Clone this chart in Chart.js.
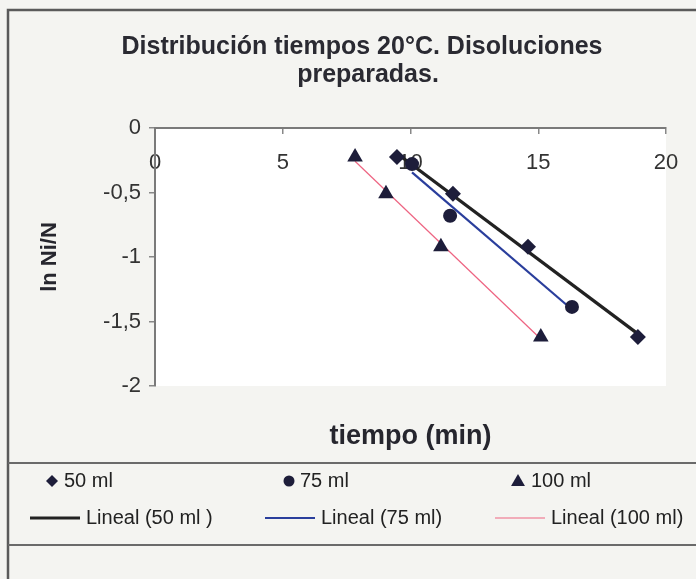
<!DOCTYPE html>
<html>
<head>
<meta charset="utf-8">
<script src="https://cdn.jsdelivr.net/npm/chart.js@4.4.1/dist/chart.umd.min.js"></script>
<style>
  html, body { margin: 0; padding: 0; background: #f4f4f1; }
  #wrap { width: 696px; height: 579px; position: relative; }
</style>
</head>
<body>
<div id="wrap"><canvas id="c" width="696" height="579"></canvas></div>
<script>
// ---- data ----
const titleLines = ["Distribución tiempos 20°C. Disoluciones", "preparadas."];
const xTitle = "tiempo (min)";
const yTitle = "ln Ni/N";
const seriesNames = ["50 ml", "75 ml", "100 ml"];
const trendNames = ["Lineal (50 ml )", "Lineal (75 ml)", "Lineal (100 ml)"];

const x50 = [9.47, 11.66, 14.6, 18.9];
const y50 = [-0.225, -0.51, -0.92, -1.62];
const x75 = [10.06, 11.55, 16.32];
const y75 = [-0.28, -0.68, -1.387];
const x100 = [7.83, 9.04, 11.19, 15.1];
const y100 = [-0.225, -0.51, -0.92, -1.62];

const xTicks = [0, 5, 10, 15, 20];
const yTicks = [0, -0.5, -1, -1.5, -2];

// ---- helpers ----
function pts(xs, ys) { return xs.map((x, i) => ({ x: x, y: ys[i] })); }
// Excel "Lineal" trendline: least-squares fit over the series' x range
function trend(xs, ys) {
  const n = xs.length;
  const mx = xs.reduce((a, b) => a + b, 0) / n;
  const my = ys.reduce((a, b) => a + b, 0) / n;
  let sxy = 0, sxx = 0;
  for (let i = 0; i < n; i++) { sxy += (xs[i] - mx) * (ys[i] - my); sxx += (xs[i] - mx) * (xs[i] - mx); }
  const b = sxy / sxx, a = my - b * mx;
  const x0 = Math.min(...xs), x1 = Math.max(...xs);
  return [{ x: x0, y: a + b * x0 }, { x: x1, y: a + b * x1 }];
}

const markerColor = '#1d1d3a';
const trendColors = ['#222222', '#2a3e9c', '#ee6482'];
const trendWidths = [3.2, 2.2, 1.2];
const markerStyles = ['rectRot', 'circle', 'triangle'];
const markerRadius = [8, 7, 9];

const FONT = "'Liberation Sans', Arial, sans-serif";

const bgPlugin = {
  id: 'bg',
  beforeDraw(chart) {
    const ctx = chart.ctx, ca = chart.chartArea;
    ctx.save();
    ctx.fillStyle = '#f4f4f1';
    ctx.fillRect(0, 0, chart.width, chart.height);
    ctx.fillStyle = '#ffffff';
    ctx.fillRect(ca.left, ca.top, ca.right - ca.left, ca.bottom - ca.top);
    ctx.strokeStyle = '#5a5a5a';
    ctx.lineWidth = 2.5;
    ctx.beginPath();
    ctx.moveTo(8, 579); ctx.lineTo(8, 10); ctx.lineTo(696, 10);
    ctx.stroke();
    ctx.strokeStyle = '#6a6a6a';
    ctx.lineWidth = 2;
    ctx.beginPath();
    ctx.moveTo(8, 463); ctx.lineTo(696, 463);
    ctx.moveTo(8, 545); ctx.lineTo(696, 545);
    ctx.stroke();
    // chart title
    ctx.fillStyle = '#2a2a32';
    ctx.font = "bold 25px " + FONT;
    ctx.textAlign = 'center';
    ctx.textBaseline = 'middle';
    ctx.fillText(titleLines[0], 362, 47);
    ctx.fillText(titleLines[1], 368, 75);
    ctx.restore();
  }
};

function drawMarker(ctx, style, x, y, r) {
  ctx.beginPath();
  if (style === 'rectRot') {
    ctx.moveTo(x, y - r); ctx.lineTo(x + r, y); ctx.lineTo(x, y + r); ctx.lineTo(x - r, y);
  } else if (style === 'circle') {
    ctx.arc(x, y, r, 0, Math.PI * 2);
  } else {
    ctx.moveTo(x, y - r); ctx.lineTo(x + r * 0.87, y + r * 0.5); ctx.lineTo(x - r * 0.87, y + r * 0.5);
  }
  ctx.closePath();
  ctx.fill();
}

const legendPlugin = {
  id: 'boxLegend',
  afterDraw(chart) {
    const ctx = chart.ctx;
    const ds = chart.data.datasets;
    const colX = [52, 289, 518];
    const textX1 = [64, 300, 531];
    const lineX = [[30, 80], [265, 315], [495, 545]];
    const textX2 = [86, 321, 551];
    const row1 = 481, row2 = 518;
    const legR = [6, 5.5, 8];
    ctx.save();
    ctx.font = "20px " + FONT;
    ctx.textBaseline = 'middle';
    ctx.textAlign = 'left';
    for (let i = 0; i < 3; i++) {
      const d = ds[i];
      ctx.fillStyle = d.backgroundColor;
      drawMarker(ctx, d.pointStyle, colX[i], i === 2 ? row1 + 1 : row1, legR[i]);
      ctx.fillStyle = '#222';
      ctx.fillText(d.label, textX1[i], row1);
      const t = ds[i + 3];
      ctx.strokeStyle = t.borderColor;
      ctx.lineWidth = t.borderWidth;
      ctx.beginPath();
      ctx.moveTo(lineX[i][0], row2); ctx.lineTo(lineX[i][1], row2);
      ctx.stroke();
      ctx.fillStyle = '#222';
      ctx.fillText(t.label, textX2[i], row2);
    }
    ctx.restore();
  }
};

const xsAll = [x50, x75, x100], ysAll = [y50, y75, y100];
const datasets = [];
for (let i = 0; i < 3; i++) {
  datasets.push({
    label: seriesNames[i],
    data: pts(xsAll[i], ysAll[i]),
    showLine: false,
    pointStyle: markerStyles[i],
    pointRadius: markerRadius[i],
    pointHoverRadius: markerRadius[i],
    backgroundColor: markerColor,
    borderColor: markerColor,
    borderWidth: 0
  });
}
for (let i = 0; i < 3; i++) {
  datasets.push({
    label: trendNames[i],
    data: trend(xsAll[i], ysAll[i]),
    showLine: true,
    pointRadius: 0,
    borderColor: trendColors[i],
    backgroundColor: trendColors[i],
    borderWidth: trendWidths[i],
    fill: false
  });
}

new Chart(document.getElementById('c'), {
  type: 'scatter',
  data: { datasets: datasets },
  plugins: [bgPlugin, legendPlugin],
  options: {
    responsive: false,
    animation: false,
    events: [],
    layout: { padding: { left: 0, right: 30, top: 128, bottom: 0 } },
    plugins: {
      legend: { display: false },
      tooltip: { enabled: false },
      title: { display: false }
    },
    scales: {
      x: {
        type: 'linear',
        position: { y: 0 },
        min: 0, max: 20,
        afterBuildTicks: (s) => { s.ticks = xTicks.map(v => ({ value: v })); },
        ticks: { color: '#333', font: { family: FONT, size: 22 }, padding: 17, maxRotation: 0 },
        grid: { drawOnChartArea: false, drawTicks: true, tickLength: 5, color: '#888', lineWidth: 1.5 },
        border: { display: true, color: '#7a7a7a', width: 2 }
      },
      x2: {
        type: 'linear',
        position: 'bottom',
        min: 0, max: 20,
        afterFit: (s) => { s.height = 193; },
        ticks: { display: false },
        grid: { display: false },
        border: { display: false },
        title: {
          display: true, text: xTitle, color: '#26262e',
          font: { family: FONT, size: 27, weight: 'bold', lineHeight: 1.2 },
          padding: { top: 0, bottom: 126 }
        }
      },
      y: {
        type: 'linear',
        position: 'left',
        min: -2, max: 0,
        afterFit: (s) => { s.width = 155; },
        afterBuildTicks: (s) => { s.ticks = yTicks.map(v => ({ value: v })); },
        ticks: {
          color: '#333', font: { family: FONT, size: 22 }, padding: 8,
          callback: (v) => String(v).replace('.', ',')
        },
        grid: { drawOnChartArea: false, drawTicks: true, tickLength: 6, color: '#888', lineWidth: 1.5 },
        border: { display: true, color: '#7a7a7a', width: 2 },
        title: {
          display: true, text: yTitle, color: '#26262e',
          font: { family: FONT, size: 22, weight: 'bold', lineHeight: 1.2 },
          padding: { top: 37, bottom: 0 }
        }
      }
    }
  }
});
</script>
</body>
</html>
